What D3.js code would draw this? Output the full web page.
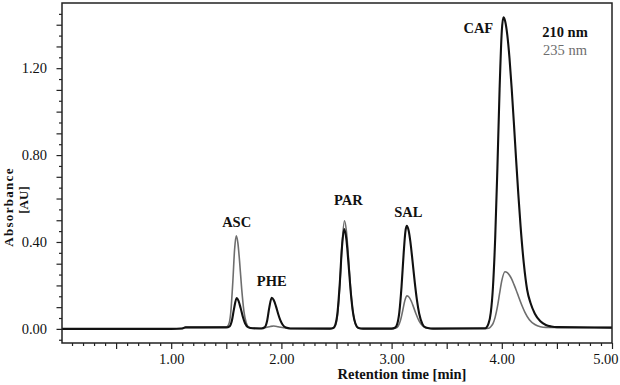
<!DOCTYPE html>
<html>
<head>
<meta charset="utf-8">
<script src="https://cdn.jsdelivr.net/npm/d3@7"></script>
<style>
  html, body { margin: 0; padding: 0; background: #fff; }
  svg { display: block; }
  text { font-family: "Liberation Serif", "Times New Roman", serif; }
</style>
</head>
<body>
<svg id="chart" width="620" height="385"></svg>
<script>
// ---- data ----
const t210 = [0, 1.00, 1.10, 1.13, 1.28, 1.50, 1.53, 1.55, 1.57, 1.594, 1.61, 1.63, 1.65, 1.67, 1.70, 1.74, 1.82, 1.85, 1.87, 1.89, 1.912, 1.93, 1.95, 1.97, 1.99, 2.01, 2.04, 2.08, 2.44, 2.47, 2.49, 2.51, 2.53, 2.55, 2.57, 2.59, 2.61, 2.63, 2.65, 2.67, 2.70, 2.74, 3.00, 3.03, 3.05, 3.07, 3.09, 3.11, 3.125, 3.137, 3.155, 3.17, 3.19, 3.21, 3.23, 3.25, 3.28, 3.31, 3.35, 3.40, 3.85, 3.88, 3.90, 3.92, 3.94, 3.96, 3.98, 4.00, 4.014, 4.03, 4.05, 4.07, 4.09, 4.11, 4.13, 4.15, 4.17, 4.20, 4.23, 4.26, 4.30, 4.35, 4.40, 4.45, 4.50, 5.00];
const a210 = [0, 0, 0.002, 0.007, 0.007, 0.007, 0.012, 0.036, 0.092, 0.142, 0.130, 0.096, 0.056, 0.026, 0.007, 0.003, 0.002, 0.008, 0.036, 0.098, 0.143, 0.133, 0.105, 0.070, 0.040, 0.020, 0.006, 0.002, 0.001, 0.004, 0.020, 0.079, 0.211, 0.379, 0.460, 0.411, 0.293, 0.166, 0.075, 0.027, 0.004, 0.001, 0.001, 0.005, 0.021, 0.076, 0.193, 0.352, 0.447, 0.474, 0.452, 0.403, 0.312, 0.215, 0.132, 0.071, 0.022, 0.006, 0.002, 0.001, 0.003, 0.025, 0.075, 0.194, 0.417, 0.740, 1.104, 1.371, 1.434, 1.417, 1.352, 1.245, 1.104, 0.945, 0.778, 0.619, 0.475, 0.300, 0.180, 0.120, 0.070, 0.035, 0.018, 0.011, 0.008, 0.006];

const t235 = [0, 1.00, 1.10, 1.13, 1.28, 1.50, 1.52, 1.54, 1.56, 1.575, 1.59, 1.605, 1.62, 1.64, 1.66, 1.68, 1.70, 1.73, 1.80, 1.86, 1.90, 1.93, 1.97, 2.02, 2.08, 2.44, 2.47, 2.49, 2.51, 2.53, 2.55, 2.572, 2.59, 2.61, 2.63, 2.65, 2.67, 2.70, 2.74, 3.00, 3.04, 3.06, 3.08, 3.10, 3.12, 3.14, 3.16, 3.18, 3.20, 3.22, 3.25, 3.28, 3.32, 3.36, 3.85, 3.88, 3.90, 3.92, 3.94, 3.96, 3.98, 4.00, 4.029, 4.05, 4.07, 4.09, 4.11, 4.13, 4.15, 4.18, 4.21, 4.25, 4.30, 4.35, 4.40, 5.00];
const a235 = [0, 0, 0.002, 0.007, 0.007, 0.008, 0.018, 0.073, 0.224, 0.364, 0.428, 0.396, 0.314, 0.182, 0.081, 0.029, 0.009, 0.003, 0.002, 0.006, 0.011, 0.013, 0.010, 0.005, 0.002, 0.001, 0.003, 0.015, 0.067, 0.199, 0.387, 0.498, 0.450, 0.317, 0.174, 0.074, 0.025, 0.003, 0.001, 0.001, 0.004, 0.013, 0.038, 0.082, 0.130, 0.152, 0.145, 0.126, 0.099, 0.071, 0.036, 0.015, 0.004, 0.002, 0.001, 0.003, 0.010, 0.024, 0.054, 0.101, 0.163, 0.222, 0.263, 0.259, 0.247, 0.229, 0.205, 0.179, 0.151, 0.111, 0.076, 0.042, 0.020, 0.010, 0.007, 0.006];

const peakNames = ["ASC", "PHE", "PAR", "SAL", "CAF"];
const peakLabelTime = [1.594, 1.912, 2.607, 3.152, 3.787];
const peakLabelAbs = [0.469, 0.197, 0.570, 0.517, 1.364];

const seriesNames = ["210 nm", "235 nm"];
const xTickValues = [1, 2, 3, 4, 5];
const yTickValues = [0, 0.4, 0.8, 1.2];
const xTitle = "Retention time [min]";
const yTitle1 = "Absorbance";
const yTitle2 = "[AU]";

// ---- layout ----
const L = 62, R = 612, T = 3, B = 343;
const svg = d3.select("#chart");

const x = d3.scaleLinear().domain([0, 5]).range([61, 612]);
const y = d3.scaleLinear().domain([-0.065, 1.5]).range([B, T]);

const fmt = d3.format(".2f");

// clip
svg.append("defs").append("clipPath").attr("id", "clip")
  .append("rect").attr("x", L).attr("y", T).attr("width", R - L).attr("height", B - T);

// x axis ticks (minor 0.1, major 0.5)
const xMinor = d3.range(1, 50).map(d => d / 10);
const xAxisMinor = d3.axisBottom(x).tickValues(xMinor.filter(d => Math.round(d * 10) % 5 !== 0)).tickSize(3).tickFormat("");
const xAxisMajor = d3.axisBottom(x).tickValues(d3.range(1, 11).map(d => d / 2)).tickSize(6).tickFormat("");
svg.append("g").attr("transform", `translate(0,${B})`).call(xAxisMinor).call(g => g.select(".domain").remove());
svg.append("g").attr("transform", `translate(0,${B})`).call(xAxisMajor).call(g => g.select(".domain").remove());
const xLab = d3.axisBottom(x).tickValues(xTickValues).tickSize(0).tickPadding(11).tickFormat(fmt);
svg.append("g").attr("transform", `translate(0,${B})`).call(xLab)
  .call(g => g.select(".domain").remove())
  .selectAll("text").attr("font-size", 14.5).attr("font-family", "Liberation Serif").attr("fill", "#111")
  .filter(d => d === 5).attr("text-anchor", "end").attr("x", 6);

// y axis ticks (minor 0.05, major 0.1)
const yAll = d3.range(-1, 30).map(d => d * 0.05);
const yMin = yAll.filter(d => Math.round(d * 20) % 2 !== 0);
const yMaj = yAll.filter(d => Math.round(d * 20) % 2 === 0);
svg.append("g").attr("transform", `translate(${L},0)`)
  .call(d3.axisLeft(y).tickValues(yMin).tickSize(3).tickFormat(""))
  .call(g => g.select(".domain").remove());
svg.append("g").attr("transform", `translate(${L},0)`)
  .call(d3.axisLeft(y).tickValues(yMaj).tickSize(5.5).tickFormat(""))
  .call(g => g.select(".domain").remove());
svg.append("g").attr("transform", `translate(${L},0)`)
  .call(d3.axisLeft(y).tickValues(yTickValues).tickSize(0).tickPadding(15).tickFormat(fmt))
  .call(g => g.select(".domain").remove())
  .selectAll("text").attr("font-size", 14.5).attr("font-family", "Liberation Serif").attr("fill", "#111");

svg.selectAll(".tick line").attr("stroke", "#222").attr("stroke-width", 1.2);

// curves
const line = d3.line().x(d => x(d[0])).y(d => y(d[1])).curve(d3.curveMonotoneX);
const plot = svg.append("g").attr("clip-path", "url(#clip)");
plot.append("path").datum(t235.map((t, i) => [t, a235[i]]))
  .attr("d", line).attr("fill", "none").attr("stroke", "#6e6e6e").attr("stroke-width", 1.6);
plot.append("path").datum(t210.map((t, i) => [t, a210[i]]))
  .attr("d", line).attr("fill", "none").attr("stroke", "#111").attr("stroke-width", 2.1);

// frame
svg.append("rect").attr("x", L).attr("y", T).attr("width", R - L).attr("height", B - T)
  .attr("fill", "none").attr("stroke", "#222").attr("stroke-width", 1.5);

// peak labels
svg.append("g").selectAll("text").data(peakNames).join("text")
  .attr("x", (d, i) => x(peakLabelTime[i]))
  .attr("y", (d, i) => y(peakLabelAbs[i]))
  .attr("text-anchor", "middle").attr("font-size", 14.5).attr("font-weight", "bold")
  .attr("fill", "#111").text(d => d);

// legend
svg.append("text").attr("x", 565).attr("y", 37).attr("text-anchor", "middle")
  .attr("font-size", 14.5).attr("font-weight", "bold").attr("fill", "#111").text(seriesNames[0]);
svg.append("text").attr("x", 565).attr("y", 55).attr("text-anchor", "middle")
  .attr("font-size", 14.5).attr("fill", "#6e6e6e").text(seriesNames[1]);

// axis titles
svg.append("text").attr("x", 402).attr("y", 379).attr("text-anchor", "middle")
  .attr("font-size", 14.5).attr("font-weight", "bold").attr("fill", "#111").text(xTitle);
svg.append("text").attr("transform", "translate(13,207) rotate(-90)").attr("text-anchor", "middle")
  .attr("font-size", 13).attr("font-weight", "bold").attr("letter-spacing", 1.3).attr("fill", "#111").text(yTitle1);
svg.append("text").attr("transform", "translate(28,200) rotate(-90)").attr("text-anchor", "middle")
  .attr("font-size", 13).attr("font-weight", "bold").attr("fill", "#111").text(yTitle2);
</script>
</body>
</html>
